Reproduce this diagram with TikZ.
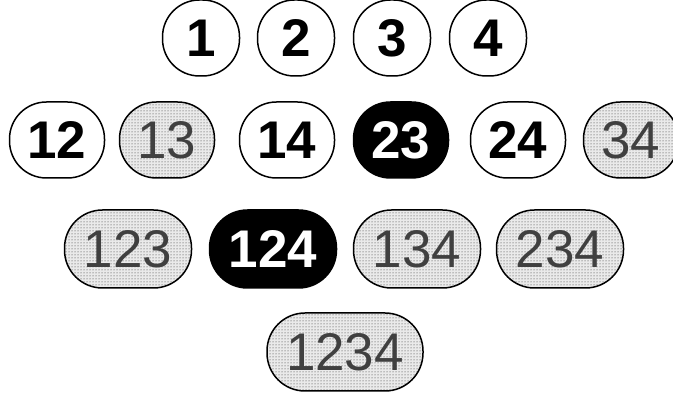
\documentclass[tikz,border=0pt]{standalone}
\usepackage{fontspec}
\setmainfont{Liberation Sans}
\usetikzlibrary{patterns}
\definecolor{SetInk}{RGB}{0,0,0}
\definecolor{SetGray}{RGB}{64,64,64}
\definecolor{SetDots}{RGB}{40,40,40}
\definecolor{SetLight}{RGB}{234,234,234}
\tikzset{
  set/base/.style={
    draw=SetInk,
    line width=1.5pt,
    rounded corners=37pt,
    minimum height=76pt,
    inner sep=0pt,
    align=center,
    font=\fontsize{53}{53}\selectfont
  },
  set/open/.style={
    set/base,
    fill=white,
    text=SetInk,
    font=\fontsize{53}{53}\selectfont\bfseries
  },
  set/dark/.style={
    set/base,
    fill=SetInk,
    text=white,
    font=\fontsize{53}{53}\selectfont\bfseries
  },
  set/dotted/.style={
    set/base,
    preaction={fill=SetLight},
    pattern=dots,
    pattern color=SetDots,
    text=SetGray
  },
  set/single/.style={minimum width=77pt},
  set/pair/.style={minimum width=95pt},
  set/triple/.style={minimum width=127pt, minimum height=78pt, rounded corners=38pt},
  set/full/.style={minimum width=156pt, minimum height=78pt, rounded corners=38pt}
}

\begin{document}
\begin{tikzpicture}[x=1pt,y=1pt]
  \useasboundingbox (0,0) rectangle (673,396);
  % singletons
  \foreach \txt/\x in {1/201,2/296,3/392,4/488}
  {\node[set/open,set/single] (s\txt) at (\x,358) {\txt};}
  % pairs
  \foreach \txt/\x/\sty in {12/57/open,13/167/dotted,14/287/open,
    23/401/dark,24/518/open,34/631/dotted}
  {\node[set/\sty,set/pair] (s\txt) at (\x,256) {\txt};}
  % triples
  \foreach \txt/\x/\sty in {123/128/dotted,124/273/dark,134/417/dotted,234/560/dotted}
  {\node[set/\sty,set/triple] (s\txt) at (\x,147) {\txt};}
  % all four
  \node[set/dotted,set/full] (s1234) at (345,44) {1234};
\end{tikzpicture}
\end{document}
